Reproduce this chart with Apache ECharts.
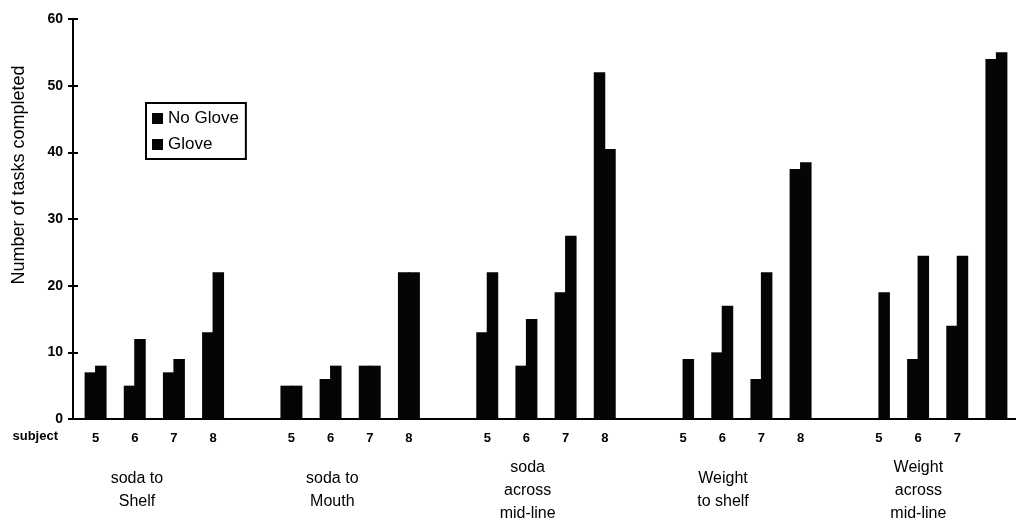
<!DOCTYPE html>
<html>
<head>
<meta charset="utf-8">
<script src="https://cdn.jsdelivr.net/npm/echarts@6/dist/echarts.min.js"></script>
<style>
html,body{margin:0;padding:0;background:#fff;}
#chart{width:1016px;height:525px;}
</style>
</head>
<body>
<div id="chart"></div>
<script>
// ---- data ----
const subjects = ['5', '6', '7', '8'];
const taskGroups = ['soda to\nShelf', 'soda to\nMouth', 'soda\nacross\nmid-line', 'Weight\nto shelf', 'Weight\nacross\nmid-line'];
const noGlove = [
  [7, 5, 7, 13],
  [5, 6, 8, 22],
  [13, 8, 19, 52],
  [0, 10, 6, 37.5],
  [0, 9, 14, 54]
];
const glove = [
  [8, 12, 9, 22],
  [5, 8, 8, 22],
  [22, 15, 27.5, 40.5],
  [9, 17, 22, 38.5],
  [19, 24.5, 24.5, 55]
];
const yMin = 0, yMax = 60, yStep = 10;
const seriesNames = ['No Glove', 'Glove'];
// the last subject label of the last group is cut off in the source picture
const hiddenSlotLabels = ['g4-8'];

// ---- build slots: 4 subjects per group, one empty slot between groups ----
const slots = [], ngData = [], gData = [];
taskGroups.forEach((t, gi) => {
  subjects.forEach((s, si) => {
    slots.push('g' + gi + '-' + s);
    ngData.push(noGlove[gi][si]);
    gData.push(glove[gi][si]);
  });
  if (gi < taskGroups.length - 1) {
    slots.push('gap' + gi);
    ngData.push(null);
    gData.push(null);
  }
});

const FONT = '"Liberation Sans", Arial, Helvetica, sans-serif';
const slotW = 39.43;
const gridLeft = 76;
const barColor = '#050505';

const chart = echarts.init(document.getElementById('chart'), null, {renderer: 'canvas'});
chart.setOption({
  animation: false,
  backgroundColor: '#ffffff',
  textStyle: {fontFamily: FONT, color: '#000'},
  legend: {
    data: seriesNames,
    orient: 'vertical',
    left: 146,
    top: 103,
    padding: [7, 7, 6, 6],
    itemWidth: 11,
    itemHeight: 11,
    itemGap: 9,
    icon: 'rect',
    itemStyle: {borderWidth: 0},
    borderColor: '#000',
    borderWidth: 2,
    textStyle: {fontFamily: FONT, fontSize: 17, color: '#000'}
  },
  grid: [
    {left: gridLeft, top: 19, width: slotW * slots.length, height: 400, containLabel: false},
    {left: gridLeft - slotW / 2 - 17, top: 19, width: slotW * 5 * taskGroups.length, height: 400, containLabel: false}
  ],
  xAxis: [
    {
      type: 'category',
      gridIndex: 0,
      data: slots,
      boundaryGap: true,
      axisLine: {show: true, lineStyle: {color: '#000', width: 2}},
      axisTick: {show: false},
      splitLine: {show: false},
      axisLabel: {
        interval: 0,
        margin: 19,
        verticalAlign: 'middle',
        fontFamily: FONT,
        fontSize: 13,
        fontWeight: 'bold',
        color: '#000',
        formatter: v => (v.indexOf('gap') === 0 || hiddenSlotLabels.indexOf(v) >= 0) ? '' : v.split('-')[1]
      },
      name: 'subject',
      nameLocation: 'start',
      nameGap: 18,
      nameTextStyle: {fontFamily: FONT, fontSize: 13, fontWeight: 'bold', color: '#000', verticalAlign: 'top', padding: [11, 0, 0, 0]}
    },
    {
      type: 'category',
      gridIndex: 1,
      data: taskGroups,
      boundaryGap: true,
      axisLine: {show: false},
      axisTick: {show: false},
      splitLine: {show: false},
      axisLabel: {
        interval: 0,
        margin: 78,
        verticalAlign: 'middle',
        align: 'center',
        fontFamily: FONT,
        fontSize: 16,
        lineHeight: 23,
        color: '#000'
      }
    }
  ],
  yAxis: [
    {
      type: 'value',
      gridIndex: 0,
      min: yMin, max: yMax, interval: yStep,
      position: 'left',
      offset: 3,
      axisLine: {show: true, lineStyle: {color: '#000', width: 2}},
      axisTick: {show: true, length: 5, lineStyle: {color: '#000', width: 2}},
      splitLine: {show: false},
      axisLabel: {margin: 10, fontFamily: FONT, fontSize: 14, fontWeight: 'bold', color: '#000'},
      name: 'Number of tasks completed',
      nameLocation: 'middle',
      nameRotate: 90,
      nameGap: 45,
      nameTextStyle: {fontFamily: FONT, fontSize: 18, color: '#000', padding: [0, 0, 0, 88]}
    },
    {
      type: 'value',
      gridIndex: 0,
      min: yMin, max: yMax, interval: yStep,
      position: 'left',
      offset: 3,
      axisLine: {show: false},
      axisTick: {show: true, inside: true, length: 5, lineStyle: {color: '#000', width: 2}},
      splitLine: {show: false},
      axisLabel: {show: false}
    },
    {
      type: 'value',
      gridIndex: 1,
      min: yMin, max: yMax,
      show: false
    }
  ],
  series: [
    {
      name: seriesNames[0],
      type: 'bar',
      xAxisIndex: 0, yAxisIndex: 0,
      data: ngData,
      barWidth: 11.5,
      barGap: '-9%',
      itemStyle: {color: barColor}
    },
    {
      name: seriesNames[1],
      type: 'bar',
      xAxisIndex: 0, yAxisIndex: 0,
      data: gData,
      barWidth: 11.5,
      barGap: '-9%',
      itemStyle: {color: barColor}
    }
  ]
});
</script>
</body>
</html>
